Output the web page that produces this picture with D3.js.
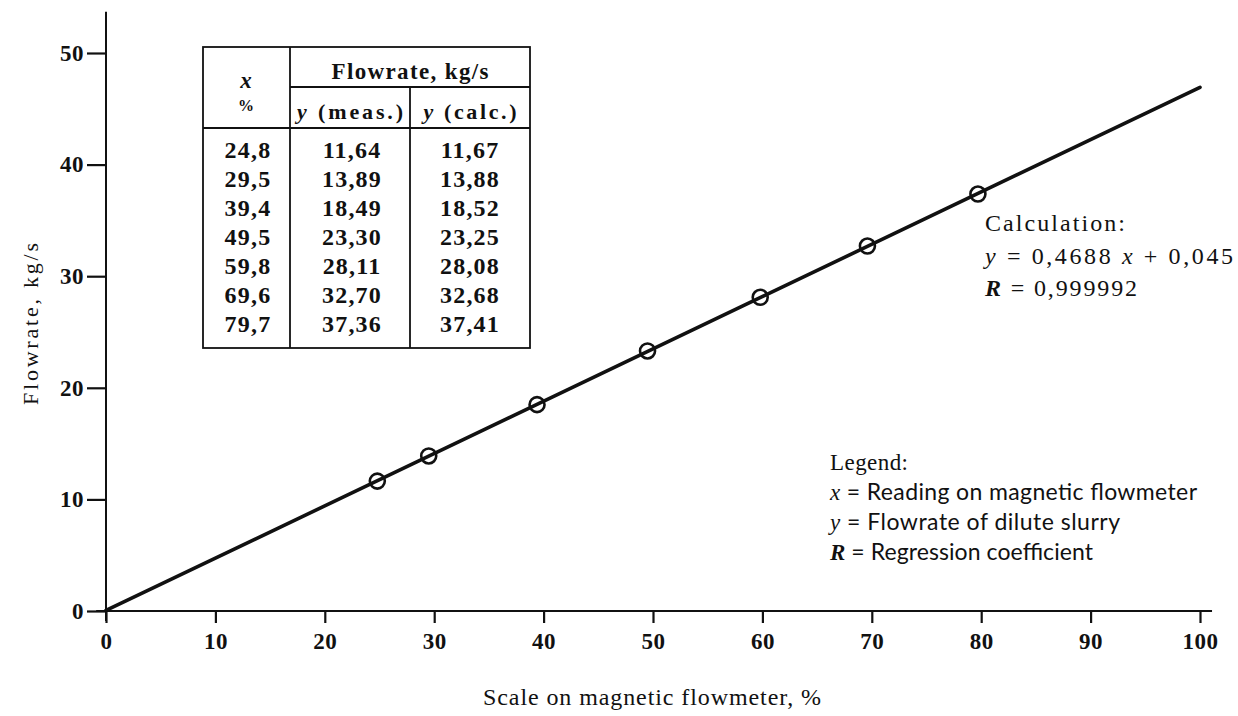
<!DOCTYPE html>
<html>
<head>
<meta charset="utf-8">
<script src="https://cdn.jsdelivr.net/npm/d3@7"></script>
<style>
  html, body { margin: 0; padding: 0; background: #fff; }
  svg { display: block; }
  text { font-family: "Liberation Serif", "Times New Roman", serif; fill: #111; }
</style>
</head>
<body>
<svg id="chart" width="1238" height="716"></svg>
<script>
// Magnetic flowmeter reading (%) against measured / calculated flowrate (kg/s)
const xReading = [24.8, 29.5, 39.4, 49.5, 59.8, 69.6, 79.7];
const yMeasured = [11.64, 13.89, 18.49, 23.30, 28.11, 32.70, 37.36];
const yCalculated = [11.67, 13.88, 18.52, 23.25, 28.08, 32.68, 37.41];

// Regression line y = a·x + b
const slope = 0.4688;
const intercept = 0.045;
const fitRange = [0, 100];
const regressionR = "0,999992";

const xTicks = [0, 10, 20, 30, 40, 50, 60, 70, 80, 90, 100];
const yTicks = [0, 10, 20, 30, 40, 50];

const fmt = (v, d) => v.toFixed(d).replace(".", ",");

const svg = d3.select("#chart");
const x = d3.scaleLinear().domain([0, 100]).range([106, 1200]);
const y = d3.scaleLinear().domain([0, 50]).range([611, 53]);

const ink = "#111";

// Axis lines
svg.append("line")
  .attr("x1", x(-0.9)).attr("x2", x(101.1))
  .attr("y1", y(0)).attr("y2", y(0))
  .attr("stroke", ink).attr("stroke-width", 2);
svg.append("line")
  .attr("x1", x(0)).attr("x2", x(0))
  .attr("y1", y(-0.9)).attr("y2", y(53.7))
  .attr("stroke", ink).attr("stroke-width", 2);

// X axis ticks and labels
const xAxis = d3.axisBottom(x).tickValues(xTicks).tickSize(12).tickPadding(10)
  .tickFormat(d3.format("d"));
const gx = svg.append("g").attr("transform", `translate(0,${y(0)})`).call(xAxis);
gx.select(".domain").remove();
gx.selectAll(".tick line").attr("stroke", ink).attr("stroke-width", 2.2);
gx.selectAll(".tick text")
  .style("font-family", '"Liberation Serif", serif')
  .style("font-size", "23px").style("font-weight", "bold")
  .style("letter-spacing", "0.5px").attr("fill", ink);

// Y axis ticks and labels
const yAxis = d3.axisLeft(y).tickValues(yTicks).tickSize(19).tickPadding(3)
  .tickFormat(d3.format("d"));
const gy = svg.append("g").attr("transform", `translate(${x(0)},0)`).call(yAxis);
gy.select(".domain").remove();
gy.selectAll(".tick line").attr("stroke", ink).attr("stroke-width", 2.2);
gy.selectAll(".tick text")
  .style("font-family", '"Liberation Serif", serif')
  .style("font-size", "23px").style("font-weight", "bold")
  .style("letter-spacing", "0.5px").attr("fill", ink);

// Axis titles
svg.append("text")
  .attr("x", 483).attr("y", 705)
  .attr("textLength", 338).attr("lengthAdjust", "spacing")
  .style("font-size", "24px")
  .text("Scale on magnetic flowmeter, %");
svg.append("text")
  .attr("transform", "translate(38,405) rotate(-90)")
  .attr("textLength", 162).attr("lengthAdjust", "spacing")
  .style("font-size", "22px")
  .text("Flowrate, kg/s");

// Regression line
const fitLine = d3.line().x(d => x(d)).y(d => y(slope * d + intercept));
svg.append("path")
  .datum(fitRange)
  .attr("d", fitLine)
  .attr("fill", "none").attr("stroke", ink)
  .attr("stroke-width", 3.6).attr("stroke-linecap", "round");

// Measured points
svg.append("g").selectAll("circle")
  .data(xReading.map((v, i) => ({ x: v, y: yMeasured[i] })))
  .join("circle")
  .attr("cx", d => x(d.x)).attr("cy", d => y(d.y))
  .attr("r", 7.5)
  .attr("fill", "none").attr("stroke", ink).attr("stroke-width", 2.6);

// Data table
const table = svg.append("g");
const tL = 203, tR = 530, tT = 47, tB = 348, c1 = 290, c2 = 410, hMid = 87, hBot = 128;
const rule = (x1, y1, x2, y2) => table.append("line")
  .attr("x1", x1).attr("y1", y1).attr("x2", x2).attr("y2", y2)
  .attr("stroke", ink).attr("stroke-width", 1.8);
table.append("rect").attr("x", tL).attr("y", tT)
  .attr("width", tR - tL).attr("height", tB - tT)
  .attr("fill", "none").attr("stroke", ink).attr("stroke-width", 1.8);
rule(c1, tT, c1, tB);
rule(c2, hMid, c2, tB);
rule(c1, hMid, tR, hMid);
rule(tL, hBot, tR, hBot);

const cellText = (cx, cy, parts, size, len) => {
  const t = table.append("text").attr("x", cx).attr("y", cy)
    .attr("text-anchor", "middle").style("font-size", size + "px")
    .style("font-weight", "bold");
  if (len) t.attr("textLength", len).attr("lengthAdjust", "spacing");
  else t.style("letter-spacing", "1.2px");
  parts.forEach(p => {
    t.append("tspan").text(p.t).style("font-style", p.i ? "italic" : "normal");
  });
  return t;
};
cellText((tL + c1) / 2, 88, [{ t: "x", i: true }], 23);
cellText((tL + c1) / 2, 111, [{ t: "%" }], 16);
cellText((c1 + tR) / 2, 79, [{ t: "Flowrate, kg/s" }], 23, 157);
cellText((c1 + c2) / 2, 119, [{ t: "y", i: true }, { t: " (meas.)" }], 22, 106);
cellText((c2 + tR) / 2, 119, [{ t: "y", i: true }, { t: " (calc.)" }], 22, 93);

const rowY = i => 158 + i * 29;
xReading.forEach((v, i) => {
  cellText(248, rowY(i), [{ t: fmt(v, 1) }], 24);
  cellText(352, rowY(i), [{ t: fmt(yMeasured[i], 2) }], 24);
  cellText(470, rowY(i), [{ t: fmt(yCalculated[i], 2) }], 24);
});

// Text blocks on the right
const note = (lx, ly, parts, len, size, family) => {
  const t = svg.append("text").attr("x", lx).attr("y", ly)
    .style("font-size", size + "px")
    .attr("textLength", len).attr("lengthAdjust", "spacing");
  parts.forEach(p => {
    const s = t.append("tspan").text(p.t)
      .style("font-style", p.i ? "italic" : "normal")
      .style("font-weight", p.b ? "bold" : "normal");
    if (family && !p.i) s.style("font-family", family);
  });
};
note(985, 231, [{ t: "Calculation:" }], 140, 24);
note(985, 264, [{ t: "y", i: true }, { t: " = " + fmt(slope, 4) + " " }, { t: "x", i: true }, { t: " + " + fmt(intercept, 3) }], 248, 24);
note(985, 296, [{ t: "R", i: true, b: true }, { t: " = " + regressionR }], 152, 24);

// Symbol key
const sans = "Lato, 'Open Sans', sans-serif";
note(830, 470, [{ t: "Legend:" }], 78, 23);
note(830, 500, [{ t: "x", i: true }, { t: " = Reading on magnetic flowmeter" }], 367, 23, sans);
note(830, 530, [{ t: "y", i: true }, { t: " = Flowrate of dilute slurry" }], 290, 23, sans);
note(830, 560, [{ t: "R", i: true, b: true }, { t: " = Regression coefficient" }], 263, 23, sans);
</script>
</body>
</html>
